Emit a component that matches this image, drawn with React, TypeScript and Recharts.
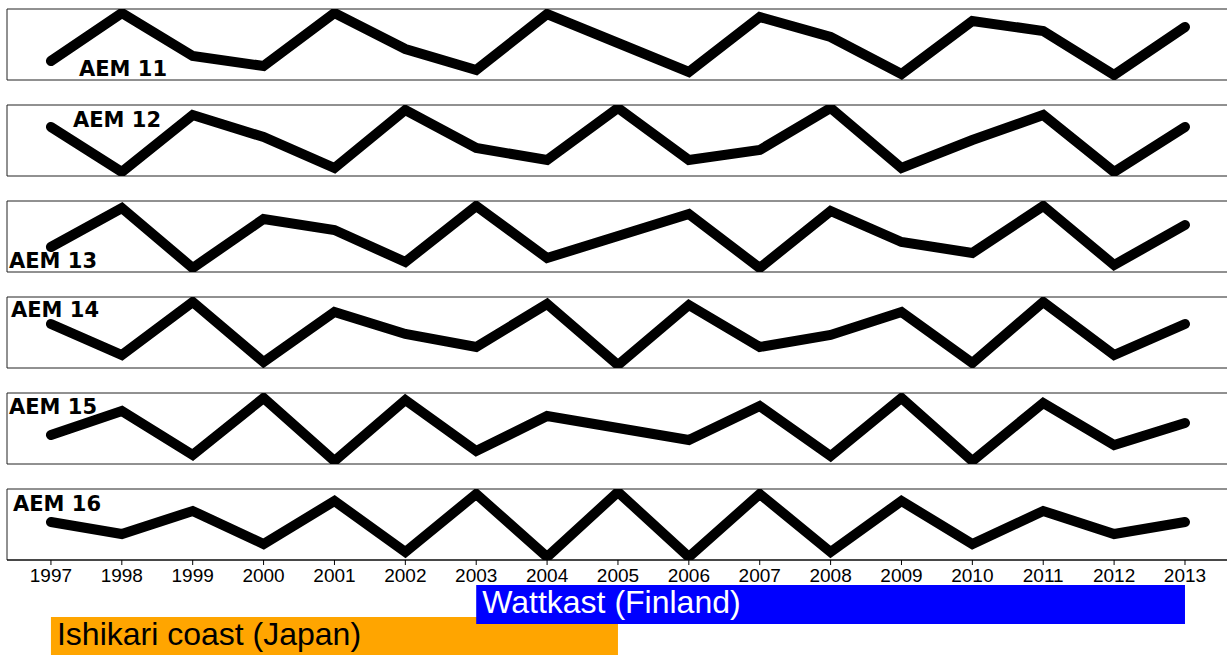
import { LineChart, Line, XAxis, YAxis, ReferenceArea, BarChart, Bar, Cell, LabelList } from "recharts";

const years = [1997, 1998, 1999, 2000, 2001, 2002, 2003, 2004, 2005, 2006, 2007, 2008, 2009, 2010, 2011, 2012, 2013];

const aem11 = [19, 67, 24, 14, 67, 31, 10, 66, 37, 8, 63, 43, 6, 59, 49, 5, 53];
const aem12 = [49, 4, 61, 39, 8, 66, 28, 16, 68, 16, 26, 68, 8, 36, 61, 4, 49];
const aem13 = [25, 64, 4, 53, 42, 10, 66, 14, 36, 58, 4, 61, 30, 19, 66, 7, 47];
const aem14 = [44, 13, 66, 6, 56, 34, 21, 64, 3, 63, 21, 33, 56, 5, 66, 13, 44];
const aem15 = [29, 53, 9, 66, 3, 64, 13, 48, 36, 24, 58, 8, 66, 3, 61, 19, 41];
const aem16 = [38, 26, 49, 16, 59, 8, 66, 3, 68, 3, 66, 8, 59, 16, 49, 26, 38];

const panelNames = ["AEM 11", "AEM 12", "AEM 13", "AEM 14", "AEM 15", "AEM 16"];
const panelSeries = [aem11, aem12, aem13, aem14, aem15, aem16];

// drawn in this order: Ishikari first so Wattkast sits on top
const periodNames = ["Ishikari coast (Japan)", "Wattkast (Finland)"];
const periodStart = [1997, 2003];
const periodEnd = [2005, 2013];
const periodColors = ["#ffa500", "#0000ff"];
const periodText = ["#000000", "#ffffff"];

const X_DOMAIN: [number, number] = [1996.38, 2013.7];
const Y_DOMAIN: [number, number] = [0, 71];
const W = 1240;
const M = { top: 1, left: 7, right: 5.4, bottom: 1 };

// label placement (x, baseline) per panel
const labelPos = [
  [79, 76],
  [73, 127],
  [9, 268],
  [11, 317],
  [9, 414],
  [13, 511],
];
// top of each period bar
const periodTop = [617, 585];

function Panel({ values, top, last }: { values: number[]; top: number; last: boolean }) {
  const data = years.map((y, i) => ({ year: y, v: values[i] }));
  return (
    <div style={{ position: "absolute", left: 0, top: top - 1 }}>
      <LineChart width={W} height={last ? 103 : 73} data={data} margin={M}>
        <XAxis
          dataKey="year"
          type="number"
          domain={X_DOMAIN}
          allowDataOverflow
          hide={!last}
          ticks={years}
          interval={0}
          height={30}
          tickSize={5}
          tickMargin={4}
          axisLine={{ stroke: "#000", strokeWidth: 1 }}
          tickLine={{ stroke: "#000" }}
          tick={{ fill: "#000", fontSize: 19, fontFamily: "Liberation Sans" }}
        />
        <YAxis type="number" domain={Y_DOMAIN} allowDataOverflow hide />
        <ReferenceArea
          x1={X_DOMAIN[0]}
          x2={X_DOMAIN[1]}
          y1={Y_DOMAIN[0]}
          y2={Y_DOMAIN[1]}
          fill="none"
          stroke="#222"
          strokeWidth={1}
          fillOpacity={0}
        />
        <Line
          dataKey="v"
          stroke="#000"
          strokeWidth={10}
          strokeLinejoin="miter"
          strokeLinecap="round"
          dot={false}
          activeDot={false}
          isAnimationActive={false}
        />
      </LineChart>
    </div>
  );
}

function periodLabel(i: number) {
  return (props: any) => {
    const { x, y, height, value } = props;
    return (
      <text
        x={Number(x) + 6}
        y={Number(y) + Number(height) / 2 + 8}
        fill={periodText[i]}
        fontSize={32}
        fontFamily="Liberation Sans"
      >
        {value}
      </text>
    );
  };
}

function PeriodBar({ i }: { i: number }) {
  const data = [{ name: periodNames[i], range: [periodStart[i], periodEnd[i]] }];
  return (
    <div style={{ position: "absolute", left: 0, top: periodTop[i] }}>
      <BarChart
        width={W}
        height={39}
        data={data}
        layout="vertical"
        margin={{ top: 0, left: 7, right: 5.4, bottom: 0 }}
        barCategoryGap="0%"
      >
        <XAxis type="number" domain={X_DOMAIN} allowDataOverflow hide />
        <YAxis type="category" dataKey="name" hide />
        <Bar dataKey="range" isAnimationActive={false}>
          <Cell fill={periodColors[i]} />
          <LabelList dataKey="name" content={periodLabel(i)} />
        </Bar>
      </BarChart>
    </div>
  );
}

export default function App() {
  return (
    <div style={{ position: "absolute", left: 0, top: 0, width: 1227, height: 655, overflow: "hidden", background: "#fff" }}>
      {panelSeries.map((s, i) => (
        <Panel key={i} values={s} top={9 + 96 * i} last={i === panelSeries.length - 1} />
      ))}
      <svg width={1227} height={655} style={{ position: "absolute", left: 0, top: 0, pointerEvents: "none" }}>
        {panelNames.map((n, i) => (
          <text
            key={n}
            x={labelPos[i][0]}
            y={labelPos[i][1]}
            fontFamily="DejaVu Sans"
            fontWeight="bold"
            fontSize={21}
            fill="#000"
          >
            {n}
          </text>
        ))}
      </svg>
      {periodNames.map((n, i) => (
        <PeriodBar key={n} i={i} />
      ))}
    </div>
  );
}
